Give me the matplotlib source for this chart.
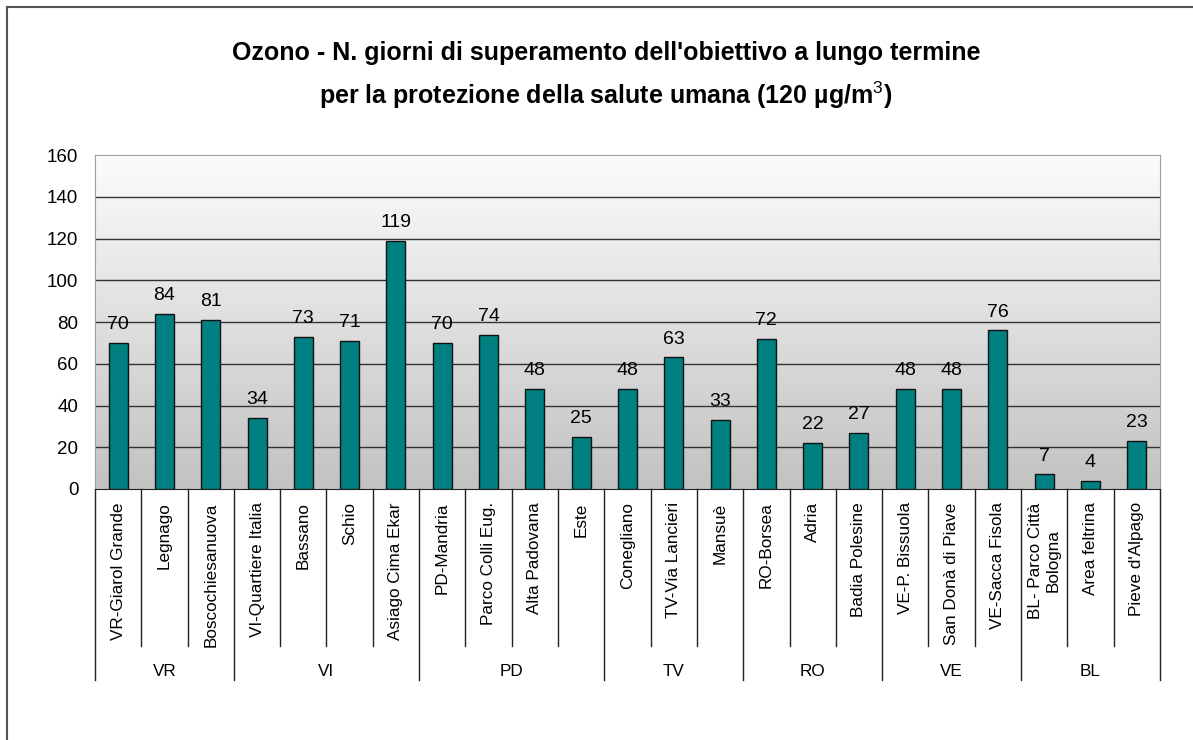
import matplotlib
matplotlib.use("Agg")
import matplotlib.pyplot as plt
import numpy as np
from matplotlib.lines import Line2D

plt.rcParams["font.family"] = ["Liberation Sans", "DejaVu Sans"]
plt.rcParams["mathtext.fontset"] = "custom"
plt.rcParams["mathtext.rm"] = "Liberation Sans"

# ---------------------------------------------------------
# data: stations, province groups, days above target
# ---------------------------------------------------------
stations = [
    "VR-Giarol Grande", "Legnago", "Boscochiesanuova",
    "VI-Quartiere Italia", "Bassano", "Schio", "Asiago Cima Ekar",
    "PD-Mandria", "Parco Colli Eug.", "Alta Padovana", "Este",
    "Conegliano", "TV-Via Lancieri", "Mansuè",
    "RO-Borsea", "Adria", "Badia Polesine",
    "VE-P. Bissuola", "San Donà di Piave", "VE-Sacca Fisola",
    "BL- Parco Città\nBologna", "Area feltrina", "Pieve d'Alpago",
]
groups = ["VR", "VI", "PD", "TV", "RO", "VE", "BL"]
group_sizes = [3, 4, 4, 3, 3, 3, 3]
days = [70, 84, 81, 34, 73, 71, 119, 70, 74, 48, 25, 48, 63, 33,
        72, 22, 27, 48, 48, 76, 7, 4, 23]
yticks = [0, 20, 40, 60, 80, 100, 120, 140, 160]

fig = plt.figure(figsize=(11.93, 7.40), dpi=100)
ax = fig.add_axes([0.0796, 0.3392, 0.8927, 0.4513])

# frame around the whole chart (top + left)
fig.add_artist(Line2D([0.006, 1.0], [0.9905, 0.9905], transform=fig.transFigure,
                      color="#555555", lw=1.5))
fig.add_artist(Line2D([0.006, 0.006], [0.0, 0.9905], transform=fig.transFigure,
                      color="#555555", lw=1.5))

# title
fig.text(0.508, 0.929, "Ozono - N. giorni di superamento dell'obiettivo a lungo termine",
         ha="center", va="center", fontsize=18, fontweight="bold")
fig.text(0.508, 0.871, r"per la protezione della salute umana (120 µg/m$^{3}$)",
         ha="center", va="center", fontsize=18, fontweight="bold")

# gradient background of plot area
grad = np.linspace(0, 1, 256).reshape(-1, 1)
cmap = matplotlib.colors.LinearSegmentedColormap.from_list("bg", ["#fcfcfc", "#c2c2c2"])
ax.imshow(grad, extent=[0, 1, 0, 1], transform=ax.transAxes, aspect="auto",
          cmap=cmap, zorder=0)

x = np.arange(len(stations))
bars = ax.bar(x, days, width=0.41, color="#008080", edgecolor="#111111",
              linewidth=1.0, zorder=3)

for xi, v in zip(x, days):
    ax.annotate(str(v), (xi, v), xytext=(0, 7), textcoords="offset points",
                ha="center", va="bottom", fontsize=14, zorder=4)

ax.set_xlim(-0.5, len(stations) - 0.5)
ax.set_ylim(0, 160)
ax.set_yticks(yticks)
ax.tick_params(axis="y", length=0, pad=12, labelsize=13.5)
for y in yticks[1:-1]:
    ax.axhline(y, color="#333333", lw=1, zorder=1)

for side in ["left", "top", "right"]:
    ax.spines[side].set_color("#a0a0a0")
ax.spines["bottom"].set_color("#222222")

# two-level category axis
ax.set_xticks([])
trans = matplotlib.transforms.blended_transform_factory(ax.transData, ax.transAxes)
for xi, name in zip(x, stations):
    ax.text(xi, -0.04, name, rotation=90, ha="center", va="top",
            multialignment="center", fontsize=12.3, transform=trans)

start = 0
edges = [-0.5]
for g, n in zip(groups, group_sizes):
    mid = start + (n - 1) / 2
    ax.text(mid, -0.545, g, ha="center", va="center", fontsize=12.3, transform=trans)
    for k in range(1, n):
        b = start + k - 0.5
        ax.plot([b, b], [0, -0.47], color="#222222", lw=1, transform=trans,
                clip_on=False)
    start += n
    edges.append(start - 0.5)
for b in edges:
    ax.plot([b, b], [0, -0.572], color="#222222", lw=1, transform=trans,
            clip_on=False)

fig.savefig("out.png", dpi=100)
plt.close(fig)
